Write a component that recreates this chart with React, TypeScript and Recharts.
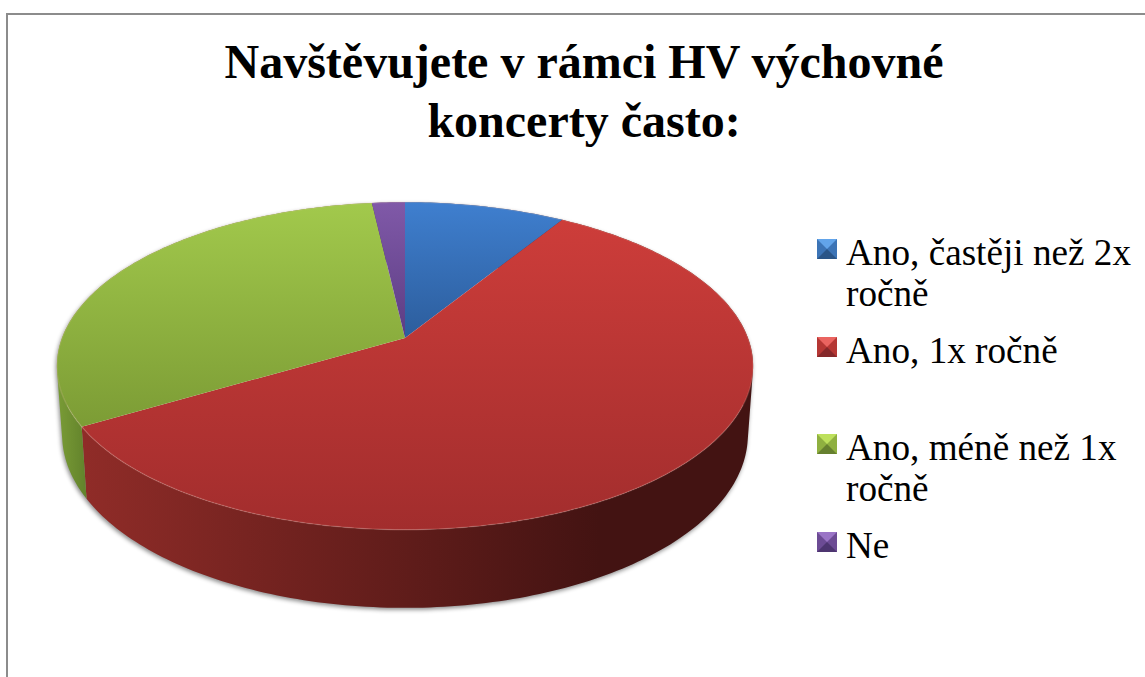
import React from 'react';
import { PieChart, Pie, Legend } from 'recharts';

const TITLE_LINES = ['Navštěvujete v rámci HV výchovné', 'koncerty často:'];
const CATEGORIES = ['Ano, častěji než 2x ročně', 'Ano, 1x ročně', 'Ano, méně než 1x ročně', 'Ne'];
const VALUES = [8.8, 57.7, 31.7, 1.8];

// top face gradient, wall gradient, legend marker shades
const TOP_COLORS = [
  ['#3f7fcf', '#2c5d9c'],
  ['#cd3d3a', '#a22d2d'],
  ['#a2c94c', '#7c9c35'],
  ['#8059a8', '#5c3d83'],
];
const WALL_COLORS = [
  ['#2c5d9c', '#1b3a63'],
  ['#902c28', '#431312'],
  ['#7a9c36', '#5f7f2a'],
  ['#5c3d83', '#3a2654'],
];
const MARKER_COLORS = [
  ['#62a4ea', '#3c74b6', '#2a5587'],
  ['#ea6460', '#b53734', '#85282a'],
  ['#bde05c', '#8fb040', '#66802f'],
  ['#9a74c6', '#6c4b94', '#4d3570'],
];

const data = CATEGORIES.map((name, i) => ({ name, value: VALUES[i], fill: `url(#top${i})` }));

// the tilted pie is a projected circle: the apex sits above the ellipse centre
const PERSPECTIVE = 0.1707;
const TILT = 0.4636;

const project = (cx: number, cy: number, r: number, angle: number) => {
  const rad = (angle * Math.PI) / 180;
  const v = -Math.sin(rad);
  const d = 1 - PERSPECTIVE * v;
  return { dx: (r * Math.cos(rad)) / d, dy: (r * TILT * v) / d, cx, cy };
};

const topPoint = (p: any) => [p.cx + p.dx, p.cy + p.dy];
const bottomPoint = (p: any) => [p.cx + p.dx * 0.985, p.cy + 67 + p.dy * 1.058];

const arc = (props: any, toXY: (p: any) => number[]) => {
  const { cx, cy, outerRadius, startAngle, endAngle } = props;
  const steps = Math.max(2, Math.ceil(Math.abs(endAngle - startAngle)));
  const pts: number[][] = [];
  for (let i = 0; i <= steps; i++) {
    const a = startAngle + ((endAngle - startAngle) * i) / steps;
    pts.push(toXY(project(cx, cy, outerRadius, a)));
  }
  return pts;
};

const toPath = (pts: number[][]) => pts.map((p, i) => `${i ? 'L' : 'M'}${p[0].toFixed(2)},${p[1].toFixed(2)}`).join(' ');

const signedArea = (pts: number[][]) =>
  pts.reduce((sum, p, i) => {
    const q = pts[(i + 1) % pts.length];
    return sum + p[0] * q[1] - q[0] * p[1];
  }, 0);

const TopSlice = (props: any) => {
  const rim = arc(props, topPoint);
  return (
    <g>
      <path d={`${toPath(rim)} L${props.cx},${props.cy} Z`} fill={props.fill} stroke="none" />
      <path d={toPath(rim)} fill="none" stroke="rgba(255,205,190,0.16)" strokeWidth={1.5} />
    </g>
  );
};

// one quad per degree in a single path, all wound the same way, so the wall
// keeps its silhouette where the two rims cross and shows no seams
const WallSlice = (props: any) => {
  const upper = arc(props, topPoint);
  const lower = arc(props, bottomPoint);
  const quads = upper.slice(1).map((p, i) => {
    const quad = [upper[i], p, lower[i + 1], lower[i]];
    return `${toPath(signedArea(quad) < 0 ? quad.reverse() : quad)} Z`;
  });
  return <path d={quads.join(' ')} fill={props.fill} stroke="none" />;
};

const LegendList = ({ payload }: any) => (
  <div style={{ fontFamily: '"Liberation Serif", serif', fontSize: 37.2, lineHeight: '41px', color: '#000' }}>
    {(payload || [])
      .filter((entry: any) => entry.type !== 'none')
      .map((entry: any, i: number) => (
        <div key={entry.value} style={{ display: 'flex', marginBottom: 15.5, minHeight: i === 1 ? 82 : 0 }}>
          <div
            style={{
              flex: 'none',
              width: 0,
              height: 0,
              marginTop: 7,
              marginRight: 9,
              borderStyle: 'solid',
              borderWidth: 10.5,
              borderTopColor: MARKER_COLORS[i][0],
              borderLeftColor: MARKER_COLORS[i][1],
              borderRightColor: MARKER_COLORS[i][1],
              borderBottomColor: MARKER_COLORS[i][2],
            }}
          />
          <div>{entry.value}</div>
        </div>
      ))}
  </div>
);

export default function App() {
  return (
    <div style={{ position: 'absolute', left: 0, top: 0, width: 1145, height: 677, overflow: 'hidden', background: '#fff' }}>
      <style>{`.pie-walls { filter: drop-shadow(-1px 2px 2px rgba(0,0,0,0.45)); }`}</style>
      <div style={{ position: 'absolute', left: 6, top: 13, width: 1300, height: 900, border: '2px solid #8c8c8c' }} />
      <div
        style={{
          position: 'absolute',
          left: 0,
          top: 32,
          width: 1168,
          textAlign: 'center',
          fontFamily: '"Liberation Serif", serif',
          fontWeight: 'bold',
          fontSize: 48,
          lineHeight: '59px',
          color: '#000',
        }}
      >
        {TITLE_LINES.map((line) => (
          <div key={line}>{line}</div>
        ))}
      </div>
      <div style={{ position: 'absolute', left: 0, top: 0 }}>
        <PieChart width={1145} height={677} margin={{ top: 0, right: 0, bottom: 0, left: 0 }}>
          <defs>
            {TOP_COLORS.map((c, i) => (
              <linearGradient key={i} id={`top${i}`} x1="0" y1="0" x2="0" y2="1">
                <stop offset="0%" stopColor={c[0]} />
                <stop offset="100%" stopColor={c[1]} />
              </linearGradient>
            ))}
            {WALL_COLORS.map((c, i) => (
              <linearGradient
                key={i}
                id={`wall${i}`}
                gradientUnits="userSpaceOnUse"
                x1={i === 2 ? 57 : 80}
                y1="0"
                x2={i === 2 ? 90 : 600}
                y2="0"
              >
                <stop offset="0%" stopColor={c[0]} />
                <stop offset="100%" stopColor={c[1]} />
              </linearGradient>
            ))}
          </defs>
          <Pie
            className="pie-walls"
            data={data.map((d, i) => ({ ...d, fill: `url(#wall${i})` }))}
            dataKey="value"
            nameKey="name"
            cx={405}
            cy={338}
            outerRadius={343}
            startAngle={90}
            endAngle={-270}
            legendType="none"
            shape={WallSlice}
            isAnimationActive={false}
          />
          <Pie
            data={data}
            dataKey="value"
            nameKey="name"
            cx={405}
            cy={338}
            outerRadius={343}
            startAngle={90}
            endAngle={-270}
            shape={TopSlice}
            isAnimationActive={false}
          />
          <Legend
            layout="vertical"
            align="right"
            verticalAlign="top"
            width={325}
            itemSorter={null}
            wrapperStyle={{ left: 817, top: 232, right: 'auto', bottom: 'auto' }}
            content={<LegendList />}
          />
        </PieChart>
      </div>
    </div>
  );
}
